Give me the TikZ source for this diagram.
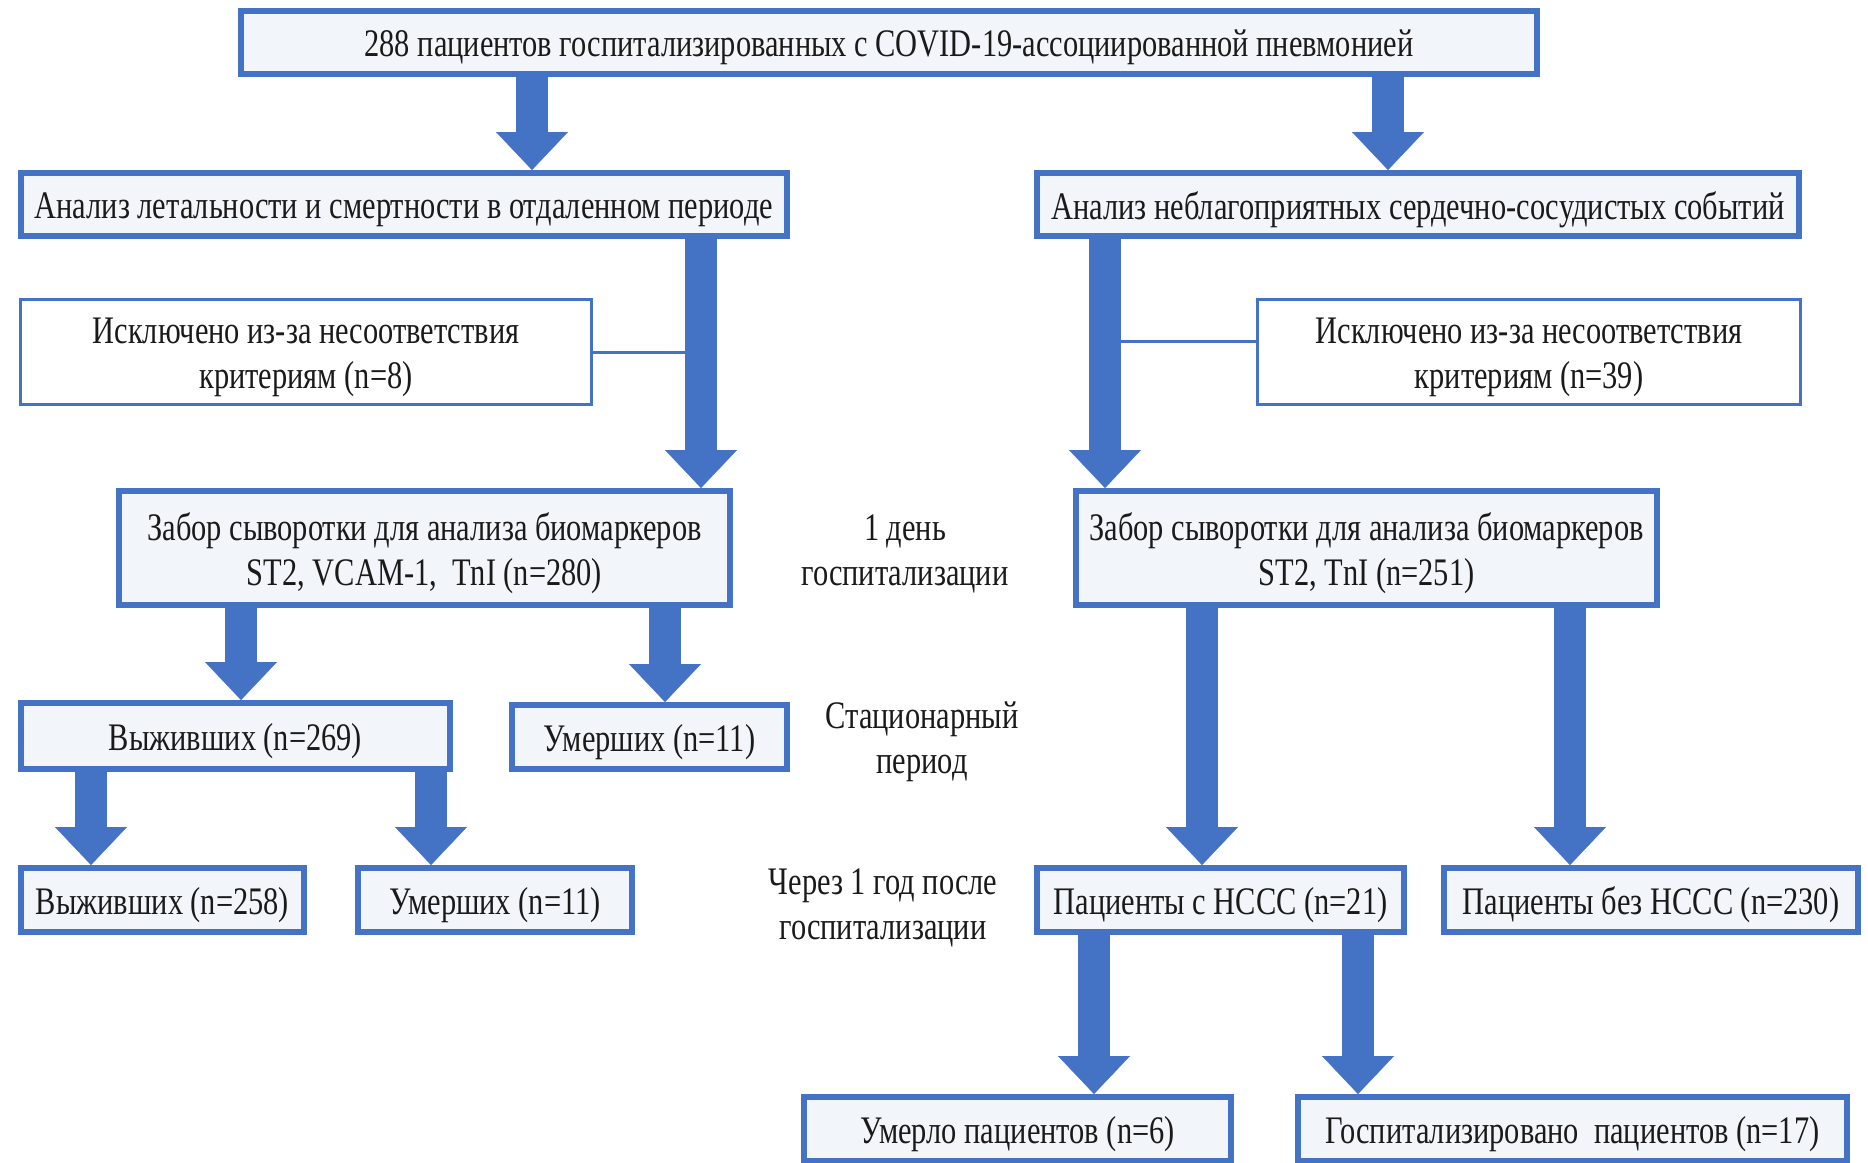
\documentclass[tikz,border=0pt]{standalone}
\usepackage{fontspec}
\setmainfont{Liberation Serif}[FakeStretch=0.78]
\usetikzlibrary{arrows.meta}
\definecolor{bblue}{HTML}{4472C4}
\definecolor{bfill}{HTML}{F2F6FB}
\definecolor{txt}{HTML}{1A1A1A}
\newcommand\lowtxt[1]{\raisebox{-2.5pt}[\height][\depth]{#1}}
\begin{document}
\begin{tikzpicture}[x=0.5pt,y=-0.5pt,
  tfont/.style={font=\fontsize{19.5}{22.5}\selectfont, text=txt},
  box/.style={draw=bblue, line width=3pt, fill=bfill, inner sep=0pt, align=center, tfont},
  ebox/.style={draw=bblue, line width=1.5pt, fill=white, inner sep=0pt, align=center, tfont},
  fat/.style={draw=bblue, line width=16pt, -{Triangle[width=36pt,length=19pt,line width=0.1pt]}},
  thinln/.style={draw=bblue, line width=1.5pt},
  lbl/.style={inner sep=0pt, align=center, tfont}]
\useasboundingbox (0,0) rectangle (1868,1162);
\clip (0,0) rectangle (1868,1162);
\fill[white] (0,0) rectangle (1868,1162);
% boxes
\node[box, minimum width=648pt, minimum height=31.5pt] (top) at (889,42.5) {\lowtxt{288 пациентов госпитализированных с COVID-19-ассоциированной пневмонией}};
\node[box, minimum width=383pt, minimum height=31.5pt] (L1) at (404,204.5) {\lowtxt{Анализ летальности и смертности в отдаленном периоде}};
\node[box, minimum width=381pt, minimum height=31.5pt] (R1) at (1418,204.5) {\lowtxt{Анализ неблагоприятных сердечно-сосудистых событий}};
\node[ebox, minimum width=285.5pt, minimum height=52.5pt] (exL) at (306,352) {\lowtxt{Исключено из-за несоответствия}\\\lowtxt{критериям (n=8)}};
\node[ebox, minimum width=271.5pt, minimum height=52.5pt] (exR) at (1529,352) {\lowtxt{Исключено из-за несоответствия}\\\lowtxt{критериям (n=39)}};
\node[box, minimum width=305.5pt, minimum height=57pt] (bioL) at (424.5,548) {\lowtxt{Забор сыворотки для анализа биомаркеров}\\\lowtxt{ST2, VCAM-1, \ TnI (n=280)}};
\node[box, minimum width=290.5pt, minimum height=57pt] (bioR) at (1366.5,548) {\lowtxt{Забор сыворотки для анализа биомаркеров}\\\lowtxt{ST2, TnI (n=251)}};
\node[box, minimum width=214.5pt, minimum height=33pt] (s269) at (235.5,736) {\lowtxt{Выживших (n=269)}};
\node[box, minimum width=137.5pt, minimum height=32pt] (d11) at (649.5,737) {\lowtxt{Умерших (n=11)}};
\node[box, minimum width=141.5pt, minimum height=32pt] (s258) at (162.5,900) {\lowtxt{Выживших (n=258)}};
\node[box, minimum width=137pt, minimum height=32pt] (d11b) at (495,900) {\lowtxt{Умерших (n=11)}};
\node[box, minimum width=183.5pt, minimum height=32pt] (hc) at (1220.5,900) {\lowtxt{Пациенты с НССС (n=21)}};
\node[box, minimum width=207pt, minimum height=32pt] (nhc) at (1651,900) {\lowtxt{Пациенты без НССС (n=230)}};
\node[box, minimum width=213.5pt, minimum height=32pt] (d6) at (1017.5,1129) {\lowtxt{Умерло пациентов (n=6)}};
\node[box, minimum width=274.5pt, minimum height=32pt] (h17) at (1572.5,1129) {\lowtxt{Госпитализировано \ пациентов (n=17)}};
% labels
\node[lbl] (lab1) at (905,554) {1 день\\госпитализации};
\node[lbl] (lab2) at (922,742) {Стационарный\\период};
\node[lbl] (lab3) at (883,908) {Через 1 год после\\госпитализации};
% arrow x positions
\coordinate (xa1) at (532,0);
\coordinate (xa2) at (1388,0);
\coordinate (xa3) at (701,0);
\coordinate (xa4) at (1105,0);
\coordinate (xa5) at (241,0);
\coordinate (xa6) at (665,0);
\coordinate (xa7) at (91,0);
\coordinate (xa8) at (431,0);
\coordinate (xa9) at (1202,0);
\coordinate (xa10) at (1570,0);
\coordinate (xa11) at (1094,0);
\coordinate (xa12) at (1358,0);
% thin connectors
\draw[thinln] (exL.east) -- (exL.east -| xa3);
\draw[thinln] ([yshift=5.5pt]exR.west) -- ([yshift=5.5pt]exR.west -| xa4);
% fat arrows
\draw[fat] (top.south -| xa1) -- (L1.north -| xa1);
\draw[fat] (top.south -| xa2) -- (R1.north -| xa2);
\draw[fat] (L1.south -| xa3) -- (bioL.north -| xa3);
\draw[fat] (R1.south -| xa4) -- (bioR.north -| xa4);
\draw[fat] (bioL.south -| xa5) -- (s269.north -| xa5);
\draw[fat] (bioL.south -| xa6) -- (d11.north -| xa6);
\draw[fat] (s269.south -| xa7) -- (s258.north -| xa7);
\draw[fat] (s269.south -| xa8) -- (d11b.north -| xa8);
\draw[fat] (bioR.south -| xa9) -- (hc.north -| xa9);
\draw[fat] (bioR.south -| xa10) -- (nhc.north -| xa10);
\draw[fat] (hc.south -| xa11) -- (d6.north -| xa11);
\draw[fat] (hc.south -| xa12) -- (h17.north -| xa12);
\end{tikzpicture}
\end{document}
